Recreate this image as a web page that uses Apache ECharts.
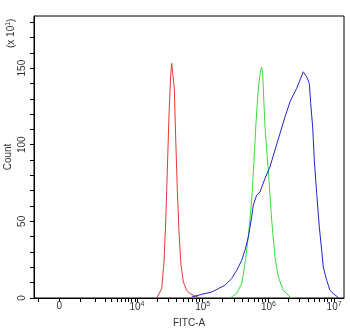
<!DOCTYPE html>
<html>
<head>
<meta charset="utf-8">
<script src="https://cdn.jsdelivr.net/npm/echarts@6/dist/echarts.min.js"></script>
<style>
  html, body { margin: 0; padding: 0; background: #fff; }
  #chart { width: 350px; height: 330px; }
</style>
</head>
<body>
<div id="chart"></div>
<script>
// x positions are in display units: 10^k sits at k (biexponential display, "0" sits at 2.817)
const redX = [4.30, 4.324, 4.376, 4.411, 4.437, 4.461, 4.487, 4.513, 4.528, 4.553, 4.568, 4.589, 4.613, 4.639, 4.670, 4.705, 4.756, 4.807, 4.857, 4.933]
const redY = [0, 0.6, 6.1, 23.5, 49.6, 82.3, 119.3, 145.5, 153.1, 152, 136.8, 104.1, 71.5, 43.1, 21.4, 10.5, 5, 2.9, 1.8, 0.6]

const greenX = [5.416, 5.517, 5.594, 5.644, 5.694, 5.746, 5.781, 5.811, 5.837, 5.861, 5.883, 5.898, 5.913, 5.948, 5.998, 6.050, 6.100, 6.151, 6.227, 6.329, 6.359]
const greenY = [0, 2.9, 9.4, 22.5, 39.8, 63.8, 89.9, 113.9, 131.3, 142.2, 148.7, 150.5, 146.6, 111.7, 83.4, 50.8, 26.8, 13.7, 5, 0.7, 0]

const blueX = [4.833, 4.985, 5.137, 5.237, 5.339, 5.441, 5.518, 5.594, 5.644, 5.694, 5.746, 5.770, 5.822, 5.872, 5.948, 6.024, 6.100, 6.177, 6.253, 6.329, 6.379, 6.431, 6.481, 6.531, 6.583, 6.623, 6.644, 6.674, 6.699, 6.735, 6.775, 6.811, 6.836, 6.887, 6.938, 6.988, 7.064]
const blueY = [0.6, 2.4, 3.9, 6.1, 8.3, 12.7, 18.1, 24.6, 31.2, 39.8, 52.9, 60.5, 67.1, 69.2, 78.0, 85.6, 96.5, 107.4, 118.2, 128.0, 132.4, 136.8, 142.2, 147.6, 144.3, 140, 127, 111.7, 89.9, 68.2, 46.4, 31.2, 20.2, 11.6, 5, 2.9, 0.3]

// x tick labels (position -> text)
const xLabelPos = [2.817, 4, 5, 6, 7]
const xLabelText = ['0', '10^4', '10^5', '10^6', '10^7']
// x ticks, including the log minors
const xTickPos = [
  2.498, 2.817, 3.143, 3.361, 3.513, 3.615, 3.696, 3.767, 3.817, 3.868, 3.919, 3.970,
  4, 4.301, 4.477, 4.602, 4.699, 4.778, 4.845, 4.903, 4.954,
  5, 5.301, 5.477, 5.602, 5.699, 5.778, 5.845, 5.903, 5.954,
  6, 6.301, 6.477, 6.602, 6.699, 6.778, 6.845, 6.903, 6.954,
  7
]
const yLabelPos = [0, 50, 100, 150]
const yTickPos = [0, 10, 20, 30, 40, 50, 60, 70, 80, 90, 100, 110, 120, 130, 140, 150, 160, 170, 180]

const chart = echarts.init(document.getElementById('chart'))

const pairs = (xs, ys) => xs.map((x, i) => [x, ys[i]])

const lineSeries = (name, xs, ys, color) => ({
  name,
  type: 'line',
  data: pairs(xs, ys),
  showSymbol: false,
  symbol: 'none',
  lineStyle: { color, width: 1 },
  animation: false
})

const font = 'Liberation Sans, Arial, sans-serif'

chart.setOption({
  backgroundColor: '#fff',
  textStyle: { fontFamily: font },
  grid: {
    left: 34,
    right: 6,
    top: 16,
    bottom: 32,
    outerBoundsMode: 'none',
    containLabel: false,
    show: true,
    borderColor: '#000',
    borderWidth: 1,
    backgroundColor: 'transparent'
  },
  xAxis: {
    type: 'value',
    min: 2.432,
    max: 7.151,
    name: 'FITC-A',
    nameLocation: 'middle',
    nameGap: 20,
    nameMoveOverlap: false,
    nameTextStyle: { color: '#333', fontSize: 10, fontFamily: font },
    axisLine: { lineStyle: { color: '#000', width: 1 } },
    axisTick: { customValues: xTickPos, length: 4, lineStyle: { color: '#000' } },
    splitLine: { show: false },
    axisLabel: {
      customValues: xLabelPos,
      margin: 3,
      color: '#333',
      fontSize: 10,
      fontFamily: font,
      formatter: v => {
        const i = xLabelPos.findIndex(p => Math.abs(p - v) < 1e-6)
        const t = xLabelText[i] || ''
        if (t.indexOf('^') < 0) return '{b|' + t + '}'
        const [base, exp] = t.split('^')
        return '{b|' + base + '}{s|' + exp + '}'
      },
      rich: {
        b: { fontSize: 10, color: '#333', fontFamily: font },
        s: { fontSize: 7, color: '#333', fontFamily: font, verticalAlign: 'top', padding: [0, 0, 6, 0] }
      }
    }
  },
  yAxis: {
    type: 'value',
    min: 0,
    max: 184,
    name: 'Count',
    nameLocation: 'middle',
    nameGap: 21,
    nameRotate: 90,
    nameMoveOverlap: false,
    nameTextStyle: { color: '#333', fontSize: 10, fontFamily: font },
    axisLine: { show: true, lineStyle: { color: '#000', width: 1 } },
    axisTick: { show: true, customValues: yTickPos, length: 4, lineStyle: { color: '#000' } },
    splitLine: { show: false },
    axisLabel: {
      customValues: yLabelPos,
      rotate: 90,
      margin: 7,
      color: '#333',
      fontSize: 10,
      fontFamily: font
    }
  },
  graphic: [{
    type: 'text',
    x: 5,
    y: 48,
    rotation: Math.PI / 2,
    style: {
      text: '{b|(x 10}{s|1}{b|)}',
      rich: {
        b: { fontSize: 10, fill: '#333', fontFamily: font },
        s: { fontSize: 7, fill: '#333', fontFamily: font, verticalAlign: 'top', padding: [0, 0, 5, 0] }
      }
    }
  }],
  series: [
    lineSeries('red', redX, redY, '#e53935'),
    lineSeries('green', greenX, greenY, '#3ddc3d'),
    lineSeries('blue', blueX, blueY, '#2424c8')
  ]
})
</script>
</body>
</html>
